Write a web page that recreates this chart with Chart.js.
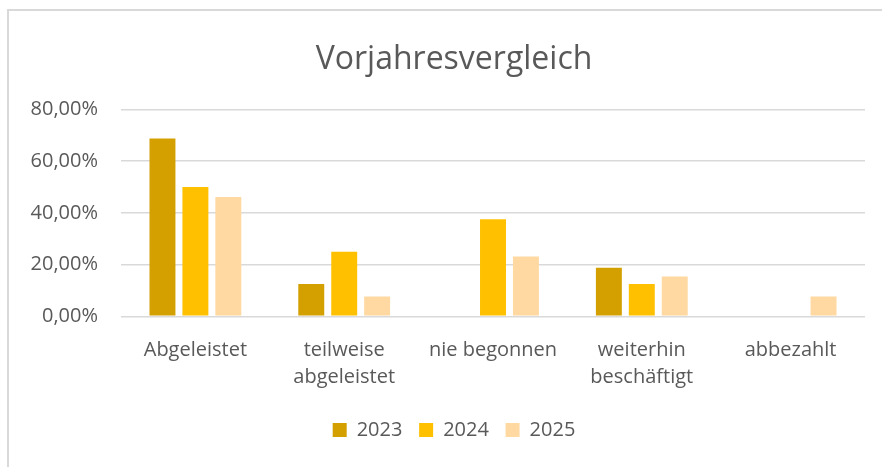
<!DOCTYPE html>
<html>
<head>
<meta charset="utf-8">
<script src="https://cdn.jsdelivr.net/npm/chart.js@4.4.1/dist/chart.umd.min.js"></script>
<style>
  html, body { margin: 0; padding: 0; background: #ffffff; overflow: hidden; width: 882px; height: 467px; }
  #frame { position: absolute; left: 7px; top: 9px; width: 900px; height: 470px;
           border-left: 2px solid #d9d9d9; border-top: 2px solid #d9d9d9; }
  #wrap { position: absolute; left: 9px; top: 11px; width: 890px; height: 456px; }
</style>
</head>
<body>
<div id="frame"></div>
<div id="wrap"><canvas id="c" width="890" height="456"></canvas></div>
<script>
const categories = ['Abgeleistet', ['teilweise', 'abgeleistet'], 'nie begonnen', ['weiterhin', 'beschäftigt'], 'abbezahlt'];
const seriesNames = ['2023', '2024', '2025'];
const values2023 = [68.75, 12.5, 0, 18.75, 0];
const values2024 = [50.0, 25.0, 37.5, 12.5, 0];
const values2025 = [46.15, 7.69, 23.08, 15.38, 7.69];
const seriesColors = ['#d4a000', '#ffc000', '#ffd9a1'];
const yTickValues = [0, 20, 40, 60, 80];
const yTickLabels = ['0,00%', '20,00%', '40,00%', '60,00%', '80,00%'];

const textColor = '#595959';
const fontFamily = '"Open Sans", "Liberation Sans", sans-serif';

new Chart(document.getElementById('c'), {
  type: 'bar',
  data: {
    labels: categories,
    datasets: [values2023, values2024, values2025].map((vals, i) => ({
      label: seriesNames[i],
      data: vals,
      backgroundColor: seriesColors[i],
      borderWidth: 0,
      categoryPercentage: 0.664,
      barPercentage: 0.788
    }))
  },
  options: {
    responsive: false,
    animation: false,
    devicePixelRatio: 1,
    layout: { padding: { left: 34, right: 34, top: 0, bottom: 17 } },
    plugins: {
      title: {
        display: true,
        text: 'Vorjahresvergleich',
        color: textColor,
        font: { family: fontFamily, size: 32, weight: 'normal' },
        padding: { top: 30, bottom: 30 }
      },
      legend: {
        display: true,
        position: 'bottom',
        labels: {
          color: textColor,
          font: { family: fontFamily, size: 20 },
          boxWidth: 14,
          boxHeight: 14,
          padding: 16.7
        }
      },
      tooltip: { enabled: false }
    },
    scales: {
      x: {
        grid: { display: false },
        border: { display: false },
        ticks: {
          color: textColor,
          font: { family: fontFamily, size: 20, lineHeight: 1.375 },
          maxRotation: 0,
          autoSkip: false,
          padding: 12
        }
      },
      y: {
        min: 0,
        max: 80,
        grid: { color: '#d9d9d9', lineWidth: 1.5, drawTicks: false },
        border: { display: false },
        afterFit: function (scale) {
          scale.width = 78;
          scale._computeLabelArea = function () { return undefined; };
        },
        afterBuildTicks: function (scale) { scale.ticks = yTickValues.map(v => ({ value: v })); },
        ticks: {
          color: textColor,
          font: { family: fontFamily, size: 20 },
          padding: 23,
          callback: function (value) { return yTickLabels[yTickValues.indexOf(value)]; }
        }
      }
    }
  }
});
</script>
</body>
</html>
